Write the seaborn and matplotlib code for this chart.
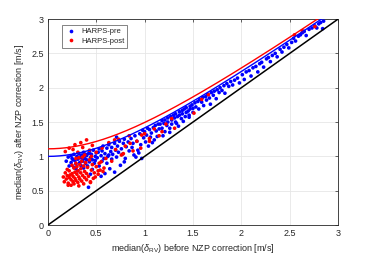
import matplotlib
matplotlib.use("Agg")
import matplotlib.pyplot as plt
import seaborn as sns
import numpy as np
import pandas as pd

# HARPS-pre (blue): median RV uncertainty before / after NZP correction [m/s]
pre_x = [0.19, 0.21, 0.22, 0.24, 0.24, 0.25, 0.27, 0.27, 0.28, 0.29, 0.30, 0.31, 0.31, 0.32, 0.33,
         0.34, 0.34, 0.35, 0.36, 0.37, 0.37, 0.38, 0.39, 0.40, 0.40, 0.41, 0.42, 0.43, 0.43, 0.44,
         0.45, 0.46, 0.46, 0.47, 0.48, 0.49, 0.49, 0.50, 0.26, 0.33, 0.39, 0.29, 0.44, 0.36, 0.42,
         0.51, 0.52, 0.53, 0.53, 0.55, 0.56, 0.56, 0.57, 0.58, 0.59, 0.59, 0.61, 0.61, 0.62, 0.63,
         0.64, 0.65, 0.66, 0.66, 0.67, 0.69, 0.69, 0.70, 0.71, 0.72, 0.73, 0.74, 0.75, 0.76, 0.77,
         0.78, 0.79, 0.80, 0.81, 0.83, 0.84, 0.55, 0.63, 0.71, 0.79,
         0.86, 0.87, 0.88, 0.90, 0.91, 0.92, 0.93, 0.95, 0.96, 0.97, 0.99, 1.00, 1.01, 1.02, 1.04,
         1.05, 1.06, 1.07, 1.09, 1.10, 1.11, 1.12, 1.13, 1.14, 0.94, 0.98, 1.03, 0.89, 1.08, 1.15,
         1.16, 1.18, 1.18, 1.20, 1.21, 1.21, 1.23, 1.24, 1.24, 1.26, 1.27, 1.28, 1.28, 1.30, 1.31,
         1.32, 1.32, 1.34, 1.35, 1.36, 1.36, 1.38, 1.39, 1.39, 1.41, 1.42, 1.43, 1.43, 1.45, 1.46,
         1.47, 1.47, 1.49, 1.50, 1.50, 1.19, 1.26, 1.33, 1.40, 1.46,
         1.52, 1.53, 1.55, 1.56, 1.57, 1.59, 1.60, 1.61, 1.63, 1.64, 1.65, 1.67, 1.68, 1.69, 1.71,
         1.72, 1.74, 1.75, 1.77, 1.78, 1.80, 1.82, 1.83, 1.85, 1.87, 1.89, 1.91, 1.93, 1.96, 1.98,
         2.01, 2.03, 2.05, 2.08, 2.10, 2.12, 2.15, 2.17, 2.19, 2.21, 2.23, 2.26, 2.28, 2.30, 2.32,
         2.35, 2.37, 2.40, 2.42, 2.44, 2.47, 2.49,
         2.52, 2.54, 2.56, 2.59, 2.61, 2.63, 2.65, 2.67, 2.70, 2.73, 2.76, 2.78, 2.80, 2.82, 2.84, 2.85]
pre_y = [0.93, 0.99, 0.86, 1.01, 0.91, 0.97, 0.84, 1.03, 0.94, 0.89, 1.00, 0.79, 0.96, 1.04, 0.91,
         0.98, 0.87, 1.02, 0.93, 0.83, 1.06, 0.97, 0.90, 1.01, 0.95, 0.86, 0.55, 1.07, 0.92, 0.98,
         1.03, 0.81, 0.95, 1.09, 0.90, 1.00, 0.94, 1.05, 0.95, 0.99, 1.03, 0.82, 0.74, 0.97, 1.04,
         0.98, 1.06, 0.86, 1.11, 1.01, 0.93, 1.08, 1.15, 0.97, 0.75, 1.04, 1.12, 0.90, 1.00, 1.17,
         0.82, 1.07, 1.13, 0.96, 1.03, 0.77, 1.19, 1.09, 0.99, 1.15, 1.06, 1.22, 0.87, 1.11, 1.03,
         1.19, 1.25, 0.97, 1.14, 1.21, 1.08, 0.71, 1.02, 1.28, 0.92,
         1.26, 1.13, 1.19, 1.30, 0.99, 1.22, 1.09, 1.33, 1.17, 0.97, 1.27, 1.36, 1.21, 1.31, 1.15,
         1.39, 1.28, 1.34, 1.42, 1.24, 1.45, 1.37, 1.29, 1.47, 1.05, 1.38, 1.41, 1.02, 1.20, 1.40,
         1.47, 1.41, 1.52, 1.48, 1.36, 1.53, 1.45, 1.56, 1.50, 1.41, 1.58, 1.53, 1.47, 1.60, 1.56,
         1.50, 1.62, 1.58, 1.44, 1.65, 1.60, 1.55, 1.67, 1.62, 1.69, 1.58, 1.64, 1.71, 1.66, 1.60,
         1.73, 1.69, 1.75, 1.70, 1.64, 1.30, 1.35, 1.48, 1.51, 1.57,
         1.78, 1.72, 1.80, 1.69, 1.83, 1.79, 1.86, 1.74, 1.87, 1.82, 1.90, 1.85, 1.76, 1.93, 1.89,
         1.95, 1.84, 1.97, 1.93, 2.00, 1.96, 2.03, 1.92, 2.06, 2.02, 2.09, 2.04, 2.11, 2.14, 2.07,
         2.19, 2.12, 2.23, 2.25, 2.17, 2.29, 2.31, 2.23, 2.35, 2.37, 2.30, 2.42, 2.44, 2.38, 2.47,
         2.50, 2.45, 2.56, 2.52, 2.59, 2.63, 2.58,
         2.66, 2.72, 2.68, 2.75, 2.77, 2.80, 2.82, 2.76, 2.85, 2.87, 2.90, 2.87, 2.93, 2.95, 2.86, 2.97]

# HARPS-post (red)
post_x = [0.16, 0.17, 0.18, 0.19, 0.20, 0.20, 0.21, 0.22, 0.22, 0.23, 0.24, 0.24, 0.25, 0.25, 0.26,
          0.26, 0.27, 0.27, 0.28, 0.28, 0.29, 0.29, 0.30, 0.30, 0.31, 0.31, 0.32, 0.32, 0.33, 0.33,
          0.34, 0.34, 0.35, 0.35, 0.36, 0.37, 0.37, 0.38, 0.38, 0.39, 0.40, 0.40, 0.41, 0.42, 0.43,
          0.44, 0.45, 0.46, 0.47, 0.48, 0.50, 0.52, 0.55, 0.58,
          0.44, 0.49, 0.52, 0.54, 0.57, 0.21, 0.29, 0.36,
          0.18, 0.22, 0.26, 0.28, 0.31, 0.34, 0.36, 0.40, 0.43, 0.46,
          0.32, 0.38, 0.45, 0.50, 0.53, 0.56, 0.60, 0.63, 0.66, 0.69, 0.70, 0.73, 0.76, 0.78, 0.80,
          0.84, 0.85, 0.88, 0.92, 0.96, 0.97, 1.00, 1.05, 1.05, 1.10, 1.15, 1.18, 1.22, 1.28, 1.31,
          1.51, 1.59, 1.66, 2.55, 2.63, 2.76]
post_y = [0.70, 0.63, 0.76, 0.67, 0.72, 0.81, 0.61, 0.69, 0.79, 0.73, 0.58, 0.66, 0.87, 0.75, 0.63,
          0.71, 0.83, 0.60, 0.77, 0.68, 0.90, 0.65, 0.74, 0.85, 0.62, 0.79, 0.70, 0.57, 0.88, 0.67,
          0.76, 0.82, 0.64, 0.93, 0.72, 0.86, 0.60, 0.78, 0.69, 0.91, 0.75, 0.66, 0.84, 0.71, 0.95,
          0.62, 0.80, 0.88, 0.68, 0.76, 0.85, 0.79, 0.92, 0.83,
          0.63, 0.70, 0.74, 0.80, 0.78, 0.58, 0.97, 0.99,
          1.07, 1.12, 1.10, 1.17, 1.06, 1.20, 1.13, 1.24, 1.09, 1.16,
          0.98, 1.02, 1.00, 1.06, 0.90, 1.12, 0.97, 1.20, 0.93, 1.24, 1.10, 1.25, 1.02, 1.04, 1.15,
          1.30, 1.19, 1.08, 1.22, 1.12, 1.31, 1.33, 1.26, 1.22, 1.40, 1.30, 1.36, 1.47, 1.55, 1.41,
          1.63, 1.83, 1.90, 2.77, 2.83, 2.89]

# noise floors of the two model curves, sqrt(x^2 + floor^2)
floor_pre = 1.0
floor_post = 1.11

df = pd.DataFrame({
    "before": pre_x + post_x,
    "after": pre_y + post_y,
    "set": ["HARPS-pre"] * len(pre_x) + ["HARPS-post"] * len(post_x),
})

sns.set_style("white")
plt.rcParams["font.family"] = ["Liberation Sans", "DejaVu Sans"]
plt.rcParams["mathtext.fontset"] = "custom"
plt.rcParams["mathtext.rm"] = "Liberation Sans"
plt.rcParams["mathtext.it"] = "Liberation Sans:italic"

fig = plt.figure(figsize=(3.74, 2.54), dpi=100)
ax = fig.add_axes([0.128, 0.114, 0.776, 0.811])

xx = np.linspace(0, 3, 200)
sns.scatterplot(data=df, x="before", y="after", hue="set",
                palette={"HARPS-pre": "#0000ff", "HARPS-post": "#ff0000"},
                s=7, linewidth=0, ax=ax, zorder=3)
ax.plot(xx, xx, color="black", lw=1.1, zorder=4)
ax.plot(xx, np.sqrt(xx ** 2 + floor_pre ** 2), color="#0000ff", lw=1.0, zorder=4)
ax.plot(xx, np.sqrt(xx ** 2 + floor_post ** 2), color="#ff0000", lw=1.0, zorder=4)

ticks = np.arange(0, 3.01, 0.5)
tick_labels = ["0", "0.5", "1", "1.5", "2", "2.5", "3"]
ax.set_xlim(0, 3)
ax.set_ylim(0, 3)
ax.set_xticks(ticks)
ax.set_yticks(ticks)
ax.set_xticklabels(tick_labels)
ax.set_yticklabels(tick_labels)
ax.grid(True, color="#e6e6e6", lw=0.6)
ax.set_axisbelow(True)
ax.tick_params(direction="in", length=2.5, width=0.5, labelsize=6.5,
               colors="#262626", top=True, right=True, pad=3)
for sp in ax.spines.values():
    sp.set_color("#262626")
    sp.set_linewidth(0.6)

ax.set_xlabel(r"median($\delta_{\rm RV}$) before NZP correction [m/s]", fontsize=6.5,
              color="#262626", labelpad=3)
ax.set_ylabel(r"median($\delta_{\rm RV}$) after NZP correction [m/s]", fontsize=6.5,
              color="#262626", labelpad=4)

handles, labels = ax.get_legend_handles_labels()
leg = ax.legend(handles=handles, labels=labels, loc="upper left",
                bbox_to_anchor=(0.048, 0.971), borderaxespad=0, fontsize=5.5,
                frameon=True, fancybox=False, edgecolor="#262626", handletextpad=0.5,
                handlelength=1.6, borderpad=0.4, labelspacing=0.3, markerscale=1.0)
leg.get_frame().set_linewidth(0.5)

fig.savefig("out.png", dpi=100)
